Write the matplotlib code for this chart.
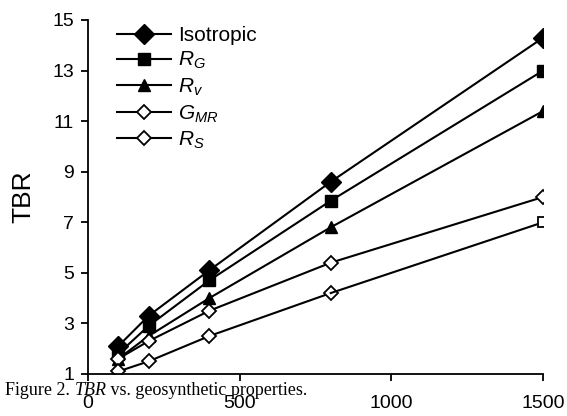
import matplotlib
matplotlib.use("Agg")
import matplotlib.pyplot as plt
from matplotlib.lines import Line2D

x_vals = [100, 200, 400, 800, 1500]
isotropic = [2.1, 3.3, 5.1, 8.6, 14.3]
r_g = [1.8, 2.9, 4.7, 7.85, 13.0]
r_v = [1.6, 2.5, 4.0, 6.8, 11.4]
g_mr = [1.6, 2.3, 3.5, 5.4, 8.0]
r_s = [1.1, 1.5, 2.5, 4.2, 7.0]
y_ticks = [1, 3, 5, 7, 9, 11, 13, 15]
x_ticks = [0, 500, 1000, 1500]

plt.rcParams['font.family'] = ['Liberation Sans', 'DejaVu Sans']
plt.rcParams['mathtext.fontset'] = 'custom'
plt.rcParams['mathtext.it'] = 'Liberation Sans:italic'
plt.rcParams['mathtext.rm'] = 'Liberation Sans'

fig = plt.figure(figsize=(5.67, 4.16), dpi=100)
ax = fig.add_axes([0.155, 0.101, 0.803, 0.851])

lw = 1.5
ax.plot(x_vals, isotropic, color='black', lw=lw, marker='D', ms=10, mfc='black', mec='black')
ax.plot(x_vals, r_g, color='black', lw=lw, marker='s', ms=8, mfc='black', mec='black')
ax.plot(x_vals, r_v, color='black', lw=lw, marker='^', ms=9, mfc='black', mec='black')
ax.plot(x_vals, g_mr, color='black', lw=lw, marker='D', ms=7.5, mfc='white', mec='black', mew=1.3)
ax.plot(x_vals[:-1], r_s[:-1], color='black', lw=lw, marker='D', ms=7.5, mfc='white', mec='black', mew=1.3)
ax.plot(x_vals[-2:], r_s[-2:], color='black', lw=lw)
ax.plot(x_vals[-1:], r_s[-1:], linestyle='none', marker='s', ms=7, mfc='white', mec='black', mew=1.3)

handles = [
    Line2D([], [], color='black', lw=lw, marker='D', ms=10, mfc='black', mec='black'),
    Line2D([], [], color='black', lw=lw, marker='s', ms=8, mfc='black', mec='black'),
    Line2D([], [], color='black', lw=lw, marker='^', ms=9, mfc='black', mec='black'),
    Line2D([], [], color='black', lw=lw, marker='D', ms=7.5, mfc='white', mec='black', mew=1.3),
    Line2D([], [], color='black', lw=lw, marker='D', ms=7.5, mfc='white', mec='black', mew=1.3),
]
labels = ['Isotropic', r'$R_G$', r'$R_v$', r'$G_{MR}$', r'$R_S$']
leg = ax.legend(handles, labels, loc='upper left', bbox_to_anchor=(0.064, 0.983),
                frameon=False, fontsize=15, handlelength=2.6, handletextpad=0.35,
                labelspacing=0.25, borderaxespad=0.0, borderpad=0.0)

ax.set_xlim(0, 1500)
ax.set_ylim(1, 15)
ax.set_xticks(x_ticks)
ax.set_yticks(y_ticks)
ax.tick_params(direction='out', length=5, width=1.3, labelsize=14, colors='black')
ax.tick_params(axis='x', pad=10)
ax.tick_params(axis='y', pad=5)
ax.spines['top'].set_visible(False)
ax.spines['right'].set_visible(False)
ax.spines['left'].set_linewidth(1.3)
ax.spines['bottom'].set_linewidth(1.3)
ax.set_ylabel('TBR', fontsize=19, labelpad=12)

fs_cap = 13
y_cap = 0.05
t1 = fig.text(0.009, y_cap, 'Figure 2. ', family='Liberation Serif', fontsize=fs_cap, va='baseline')
fig.canvas.draw()
r = fig.canvas.get_renderer()
bb = t1.get_window_extent(r)
x2 = bb.x1 / fig.bbox.width
t2 = fig.text(x2, y_cap, 'TBR', family='Liberation Serif', style='italic', fontsize=fs_cap, va='baseline')
bb2 = t2.get_window_extent(r)
x3 = bb2.x1 / fig.bbox.width
fig.text(x3, y_cap, ' vs. geosynthetic properties.', family='Liberation Serif', fontsize=fs_cap, va='baseline')

fig.savefig('out.png', dpi=100)
